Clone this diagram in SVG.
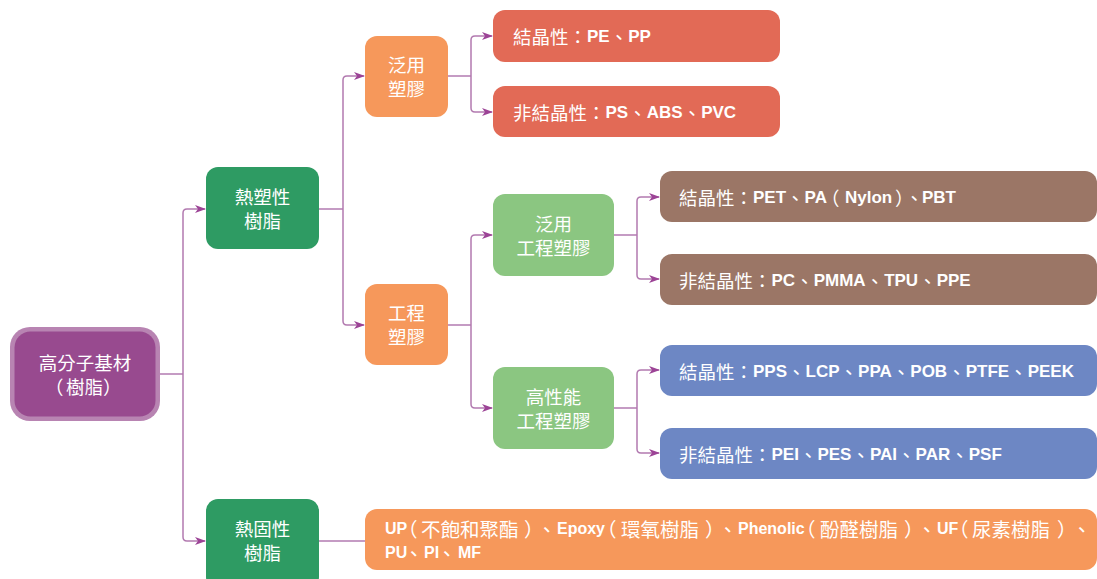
<svg xmlns="http://www.w3.org/2000/svg" width="1097" height="579" viewBox="0 0 1097 579">
<defs>
<style>
.t{font-family:"Noto Sans CJK TC","Noto Sans CJK SC",sans-serif;font-size:18.5px;fill:#ffffff;text-anchor:middle;dominant-baseline:central}
.l{font-family:"Noto Sans CJK TC","Noto Sans CJK SC",sans-serif;font-size:18.5px;fill:#ffffff;dominant-baseline:central}
.b{font-family:"Liberation Sans",Arial,sans-serif;font-weight:bold;font-size:17px}
.tb{font-family:"Noto Sans CJK TC","Noto Sans CJK SC",sans-serif;font-size:19.5px;fill:#ffffff;dominant-baseline:central}
.nb{font-family:"Liberation Sans",Arial,sans-serif;font-weight:bold;font-size:16px}
.c{fill:none;stroke:#b27ab0;stroke-width:1.5}
.red{fill:#e26a56}
.brown{fill:#9b7666}
.blue{fill:#6d87c4}
.orange{fill:#f6985b}
.dgreen{fill:#2e9b63}
.lgreen{fill:#8bc681}
</style>
<marker id="ah" markerWidth="12" markerHeight="10" refX="10" refY="4" orient="auto" markerUnits="userSpaceOnUse">
<path d="M0,0 L11,4 L0,8 L3,4 Z" fill="#9c4396"/>
</marker>
</defs>

<g id="connectors">
<path class="c" d="M160,374 H183"/>
<path class="c" d="M183,374 V213 Q183,209 187,209 H205" marker-end="url(#ah)"/>
<path class="c" d="M183,374 V537 Q183,541 187,541 H205" marker-end="url(#ah)"/>
<path class="c" d="M319,209 H343"/>
<path class="c" d="M343,209 V80 Q343,76 347,76 H364" marker-end="url(#ah)"/>
<path class="c" d="M343,209 V321 Q343,325 347,325 H364" marker-end="url(#ah)"/>
<path class="c" d="M448,76 H471"/>
<path class="c" d="M471,76 V40 Q471,36 475,36 H492" marker-end="url(#ah)"/>
<path class="c" d="M471,76 V108 Q471,112 475,112 H492" marker-end="url(#ah)"/>
<path class="c" d="M448,325 H471"/>
<path class="c" d="M471,325 V239 Q471,235 475,235 H492" marker-end="url(#ah)"/>
<path class="c" d="M471,325 V404 Q471,408 475,408 H492" marker-end="url(#ah)"/>
<path class="c" d="M614,235 H637"/>
<path class="c" d="M637,235 V201 Q637,197 641,197 H659" marker-end="url(#ah)"/>
<path class="c" d="M637,235 V275 Q637,279 641,279 H659" marker-end="url(#ah)"/>
<path class="c" d="M614,408 H637"/>
<path class="c" d="M637,408 V374 Q637,370 641,370 H659" marker-end="url(#ah)"/>
<path class="c" d="M637,408 V449 Q637,453 641,453 H659" marker-end="url(#ah)"/>
<path class="c" d="M319,541 H366"/>
</g>

<g id="root">
<rect x="10" y="327" width="150" height="94" rx="20" fill="#b884b2"/>
<rect x="14.5" y="331.5" width="141" height="85" rx="16" fill="#984a8f"/>
<text class="t" x="85" y="362">高分子基材</text>
<text class="l" y="386"><tspan x="45">（</tspan><tspan x="66">樹脂</tspan><tspan x="103">）</tspan></text>
</g>

<g id="thermoplastic">
<rect class="dgreen" x="206" y="167" width="113" height="82" rx="12"/>
<text class="t" x="262.5" y="196">熱塑性</text>
<text class="t" x="262.5" y="220">樹脂</text>
</g>

<g id="thermoset">
<rect class="dgreen" x="206" y="499" width="113" height="90" rx="12"/>
<text class="t" x="262.5" y="528">熱固性</text>
<text class="t" x="262.5" y="552">樹脂</text>
</g>

<g id="general-plastic">
<rect class="orange" x="365" y="36" width="83" height="81" rx="12"/>
<text class="t" x="406.5" y="64">泛用</text>
<text class="t" x="406.5" y="88">塑膠</text>
</g>

<g id="engineering-plastic">
<rect class="orange" x="365" y="284" width="83" height="81" rx="12"/>
<text class="t" x="406.5" y="312">工程</text>
<text class="t" x="406.5" y="336">塑膠</text>
</g>

<g id="general-eng">
<rect class="lgreen" x="493" y="194" width="121" height="82" rx="12"/>
<text class="t" x="553.5" y="223">泛用</text>
<text class="t" x="553.5" y="247">工程塑膠</text>
</g>

<g id="high-perf-eng">
<rect class="lgreen" x="493" y="367" width="121" height="82" rx="12"/>
<text class="t" x="553.5" y="396">高性能</text>
<text class="t" x="553.5" y="420">工程塑膠</text>
</g>

<g id="pe-pp">
<rect class="red" x="493" y="10" width="287" height="52" rx="12"/>
<text class="l" x="513" y="36">結晶性：<tspan class="b">PE</tspan>、<tspan class="b">PP</tspan></text>
</g>

<g id="ps-abs-pvc">
<rect class="red" x="493" y="86" width="287" height="51" rx="12"/>
<text class="l" x="513" y="112">非結晶性：<tspan class="b">PS</tspan>、<tspan class="b">ABS</tspan>、<tspan class="b">PVC</tspan></text>
</g>

<g id="pet-pa-pbt">
<rect class="brown" x="660" y="171" width="437" height="51" rx="12"/>
<text class="l" x="679" y="197">結晶性：<tspan class="b">PET</tspan>、<tspan class="b">PA</tspan><tspan x="821">（</tspan><tspan class="b" x="845">Nylon</tspan><tspan x="895">）</tspan><tspan x="905">、</tspan><tspan class="b" x="922">PBT</tspan></text>
</g>

<g id="pc-pmma">
<rect class="brown" x="660" y="254" width="437" height="51" rx="12"/>
<text class="l" x="679" y="280">非結晶性：<tspan class="b">PC</tspan>、<tspan class="b">PMMA</tspan>、<tspan class="b">TPU</tspan>、<tspan class="b">PPE</tspan></text>
</g>

<g id="pps-peek">
<rect class="blue" x="660" y="345" width="437" height="51" rx="12"/>
<text class="l" x="679" y="371">結晶性：<tspan class="b">PPS</tspan>、<tspan class="b">LCP</tspan>、<tspan class="b">PPA</tspan>、<tspan class="b">POB</tspan>、<tspan class="b">PTFE</tspan>、<tspan class="b">PEEK</tspan></text>
</g>

<g id="pei-psf">
<rect class="blue" x="660" y="428" width="437" height="51" rx="12"/>
<text class="l" x="679" y="454">非結晶性：<tspan class="b">PEI</tspan>、<tspan class="b">PES</tspan>、<tspan class="b">PAI</tspan>、<tspan class="b">PAR</tspan>、<tspan class="b">PSF</tspan></text>
</g>

<g id="thermoset-list">
<rect class="orange" x="365" y="509" width="732" height="61" rx="12"/>
<text class="tb" y="528"><tspan class="nb" x="385">UP</tspan><tspan x="398">（</tspan><tspan x="421">不飽和聚酯</tspan><tspan x="524">）</tspan><tspan x="537">、</tspan><tspan class="nb" x="557">Epoxy</tspan><tspan x="597">（</tspan><tspan x="621">環氧樹脂</tspan><tspan x="705">）</tspan><tspan x="718">、</tspan><tspan class="nb" x="738">Phenolic</tspan><tspan x="796">（</tspan><tspan x="820">酚醛樹脂</tspan><tspan x="904">）</tspan><tspan x="917">、</tspan><tspan class="nb" x="937">UF</tspan><tspan x="949">（</tspan><tspan x="972">尿素樹脂</tspan><tspan x="1057">）</tspan><tspan x="1072">、</tspan></text>
<text class="tb" y="552"><tspan class="nb" x="385">PU</tspan><tspan x="404">、</tspan><tspan class="nb" x="424">PI</tspan><tspan x="437">、</tspan><tspan class="nb" x="458">MF</tspan></text>
</g>
</svg>
